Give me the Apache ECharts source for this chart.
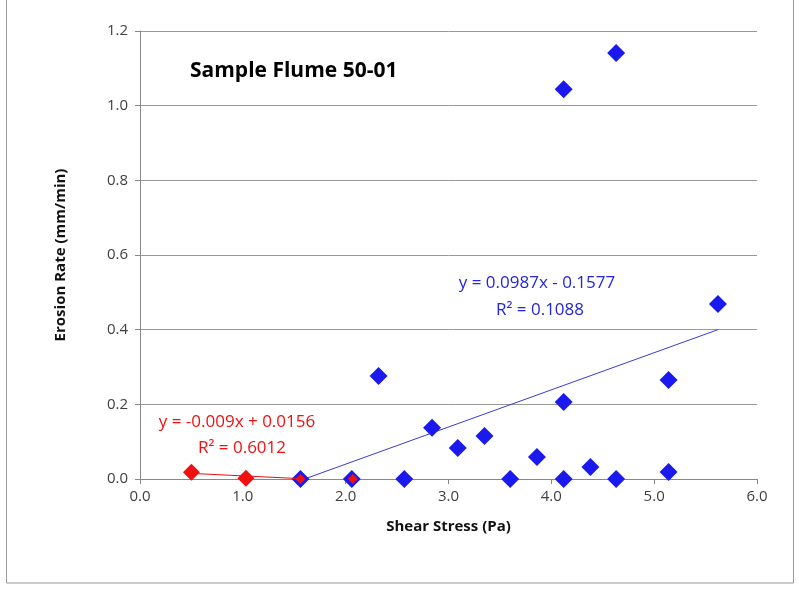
<!DOCTYPE html>
<html><head><meta charset="utf-8">
<script src="https://cdn.jsdelivr.net/npm/echarts@6/dist/echarts.min.js"></script>
<style>html,body{margin:0;padding:0;background:#fff}#c{width:799px;height:590px}</style>
</head><body><div id="c"></div>
<script>
// Blue series (all samples)
var blueX = [1.56, 2.06, 2.32, 2.57, 2.84, 3.09, 3.35, 3.60, 3.86, 4.12, 4.12, 4.12, 4.38, 4.63, 4.63, 5.14, 5.14, 5.62];
var blueY = [0.0, 0.0, 0.276, 0.0, 0.137, 0.083, 0.115, 0.0, 0.059, 1.044, 0.206, 0.0, 0.032, 1.141, 0.0, 0.265, 0.019, 0.469];
// Red series (low stress subset)
var redX = [0.50, 1.03, 1.56, 2.07];
var redY = [0.018, 0.002, 0.0, 0.0];
// Trendline end points
var blueTrendX = [1.60, 5.62];
var blueTrendY = [0.0, 0.40];
var redTrendX = [0.50, 1.56];
var redTrendY = [0.015, 0.001];
var xTicks = ['0.0','1.0','2.0','3.0','4.0','5.0','6.0'];
var yTicks = ['0.0','0.2','0.4','0.6','0.8','1.0','1.2'];

function pairs(xs, ys){ return xs.map(function(x,i){return [x, ys[i]];}); }

var FONT = '"Open Sans", "Liberation Sans", sans-serif';
var chart = echarts.init(document.getElementById('c'));
chart.setOption({
  animation: false,
  backgroundColor: '#fff',
  grid: {left: 140, right: 42, top: 31, bottom: 111},
  xAxis: {
    type: 'value', min: 0, max: 6, interval: 1,
    name: 'Shear Stress (Pa)', nameLocation: 'middle', nameGap: 40,
    nameTextStyle: {fontFamily: FONT, fontWeight: 'bold', fontSize: 15, color: '#111'},
    axisLine: {show: true, lineStyle: {color: '#888', width: 1}},
    axisTick: {show: true, length: 5, lineStyle: {color: '#888'}},
    axisLabel: {fontFamily: FONT, fontSize: 15, color: '#404040', margin: 10,
      formatter: function(v){ return xTicks[Math.round(v)]; }},
    splitLine: {show: false}
  },
  yAxis: {
    type: 'value', min: 0, max: 1.2, interval: 0.2,
    name: 'Erosion Rate (mm/min)', nameLocation: 'middle', nameGap: 72,
    nameTextStyle: {fontFamily: FONT, fontWeight: 'bold', fontSize: 15, color: '#111'},
    axisLine: {show: true, lineStyle: {color: '#888', width: 1}},
    axisTick: {show: true, length: 5, lineStyle: {color: '#888'}},
    axisLabel: {fontFamily: FONT, fontSize: 15, color: '#404040', margin: 12,
      formatter: function(v){ return yTicks[Math.round(v/0.2)]; }},
    splitLine: {show: true, lineStyle: {color: '#999', width: 1}}
  },
  series: [
    {type: 'line', data: pairs(blueTrendX, blueTrendY), symbol: 'none',
     lineStyle: {color: '#3a3ad8', width: 1}, z: 2},
    {type: 'scatter', data: pairs(blueX, blueY), symbol: 'diamond', symbolSize: 18,
     itemStyle: {color: '#1a1aee', opacity: 1}, z: 3},
    {type: 'line', data: pairs(redTrendX, redTrendY), symbol: 'none',
     lineStyle: {color: '#e81010', width: 1}, z: 4},
    {type: 'scatter', data: pairs(redX, redY), symbol: 'diamond',
     symbolSize: function(v, p){ return p.dataIndex < 2 ? 17 : 10; },
     itemStyle: {color: '#f01010', opacity: 1}, z: 5}
  ],
  graphic: [
    {type: 'rect', shape: {x: 6.5, y: -1, width: 787, height: 584}, style: {fill: 'none', stroke: '#999', lineWidth: 1}, silent: true},
    {type: 'text', left: 190, top: 61, style: {text: 'Sample Flume 50-01', font: 'bold 21px ' + FONT, fill: '#000'}},
    {type: 'text', x: 537, y: 283, style: {text: 'y = 0.0987x - 0.1577', font: '17px ' + FONT, fill: '#2424e0', textAlign: 'center', textVerticalAlign: 'middle'}},
    {type: 'text', x: 540, y: 310, style: {text: 'R² = 0.1088', font: '17px ' + FONT, fill: '#2424e0', textAlign: 'center', textVerticalAlign: 'middle'}},
    {type: 'text', x: 237, y: 422, style: {text: 'y = -0.009x + 0.0156', font: '17px ' + FONT, fill: '#f01010', textAlign: 'center', textVerticalAlign: 'middle'}},
    {type: 'text', x: 242, y: 448, style: {text: 'R² = 0.6012', font: '17px ' + FONT, fill: '#f01010', textAlign: 'center', textVerticalAlign: 'middle'}}
  ]
});
</script></body></html>
